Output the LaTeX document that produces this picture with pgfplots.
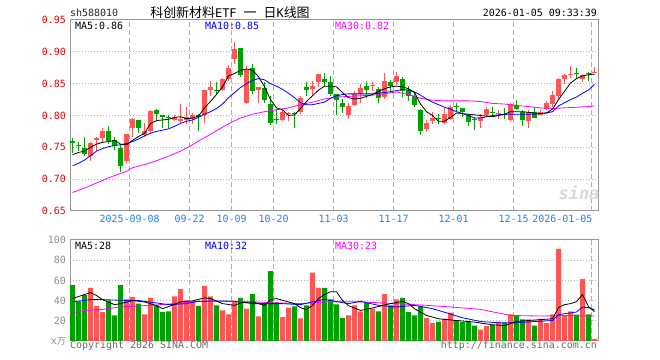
\documentclass[border=0pt]{standalone}
\usepackage{pgfplots}
\usepackage{pgfplotstable}
\pgfplotsset{compat=1.18}
\usepackage{fontspec}
\setmainfont{DejaVu Sans Mono}
\newfontfamily\cjk{Noto Sans CJK SC}
\definecolor{cred}{RGB}{255,85,85}
\definecolor{cgreen}{RGB}{0,160,0}
\definecolor{cmag}{RGB}{255,0,255}
\definecolor{cblue}{RGB}{0,0,255}
\definecolor{cdate}{RGB}{30,130,230}
\definecolor{cgrid}{RGB}{175,175,175}
\definecolor{cframe}{RGB}{150,150,150}
\definecolor{ctick}{RGB}{230,0,0}
\definecolor{cgray}{RGB}{140,140,140}
\definecolor{ccopy}{RGB}{105,105,105}

\pgfplotstableread{
i o h l c v
3 0.736 0.758 0.729 0.757 52.7
4 0.761 0.767 0.745 0.765 34.7
5 0.765 0.781 0.759 0.775 28.7
9 0.729 0.771 0.725 0.771 41.3
10 0.780 0.796 0.767 0.794 43.7
12 0.770 0.789 0.766 0.775 26.3
13 0.776 0.808 0.771 0.807 42.7
17 0.793 0.801 0.792 0.798 44.3
18 0.792 0.818 0.788 0.794 51.3
19 0.793 0.813 0.787 0.798 40.3
20 0.795 0.804 0.787 0.800 39.3
22 0.800 0.840 0.789 0.840 54.7
23 0.840 0.854 0.830 0.845 44.3
25 0.840 0.859 0.839 0.857 30.3
26 0.857 0.879 0.854 0.875 26.3
27 0.888 0.915 0.881 0.905 38.7
29 0.820 0.878 0.818 0.872 32
31 0.840 0.845 0.819 0.844 24.3
35 0.793 0.808 0.791 0.806 23.7
36 0.802 0.806 0.791 0.804 33
38 0.805 0.831 0.802 0.827 22.3
40 0.841 0.854 0.832 0.846 67.7
41 0.853 0.865 0.844 0.865 52.7
46 0.801 0.820 0.795 0.815 25.3
47 0.817 0.839 0.815 0.834 35.3
48 0.834 0.850 0.820 0.843 29.3
50 0.847 0.853 0.839 0.848 32
52 0.829 0.866 0.826 0.854 46.3
54 0.853 0.868 0.848 0.862 41.3
59 0.779 0.793 0.775 0.789 22.7
60 0.791 0.806 0.786 0.796 17.7
62 0.788 0.811 0.786 0.802 22
63 0.794 0.817 0.793 0.813 28
68 0.792 0.802 0.780 0.798 11.3
69 0.800 0.813 0.799 0.810 14.7
71 0.803 0.808 0.794 0.804 19.3
73 0.793 0.819 0.792 0.818 26.3
76 0.792 0.808 0.780 0.806 21.3
78 0.801 0.809 0.800 0.805 22
79 0.810 0.822 0.808 0.819 17.7
80 0.818 0.839 0.814 0.832 26.3
81 0.831 0.859 0.826 0.857 91.3
82 0.857 0.865 0.850 0.864 24.7
83 0.864 0.877 0.859 0.865 29.3
85 0.857 0.865 0.853 0.864 61.3
87 0.868 0.876 0.867 0.869 2
}\up

\pgfplotstableread{
i o h l c v
0 0.760 0.765 0.741 0.757 55.3
1 0.754 0.759 0.745 0.752 39.3
2 0.749 0.766 0.737 0.739 45.3
6 0.775 0.783 0.755 0.760 40
7 0.762 0.766 0.746 0.752 25.3
8 0.749 0.755 0.712 0.721 55.3
11 0.793 0.793 0.772 0.781 37
14 0.808 0.810 0.793 0.803 35.3
15 0.800 0.800 0.781 0.797 28.7
16 0.797 0.800 0.780 0.796 29.3
21 0.800 0.803 0.775 0.798 34.7
24 0.840 0.852 0.833 0.839 35.3
28 0.906 0.906 0.860 0.864 42.7
30 0.875 0.881 0.833 0.839 46.3
32 0.843 0.852 0.820 0.824 37.7
33 0.818 0.831 0.785 0.788 69.3
34 0.795 0.810 0.787 0.794 38
37 0.804 0.806 0.781 0.803 34.3
39 0.844 0.852 0.831 0.840 35.3
42 0.858 0.866 0.846 0.853 52.7
43 0.852 0.862 0.831 0.834 41.3
44 0.833 0.834 0.801 0.824 36.3
45 0.820 0.826 0.804 0.814 22.7
49 0.846 0.854 0.828 0.840 37.7
51 0.841 0.844 0.819 0.828 29.3
53 0.852 0.855 0.836 0.846 35.3
55 0.857 0.860 0.829 0.839 42.7
56 0.840 0.846 0.823 0.831 28.7
57 0.831 0.836 0.814 0.817 25.3
58 0.808 0.810 0.770 0.775 34.3
61 0.796 0.802 0.786 0.794 19.3
64 0.815 0.819 0.805 0.814 20.3
65 0.811 0.812 0.798 0.805 18.7
66 0.800 0.802 0.784 0.790 19.3
67 0.794 0.798 0.777 0.793 15.3
70 0.806 0.813 0.798 0.805 16
72 0.803 0.811 0.795 0.802 18
74 0.816 0.825 0.809 0.810 24.7
75 0.806 0.809 0.784 0.793 21.3
77 0.805 0.813 0.796 0.796 15.3
84 0.866 0.875 0.857 0.865 26
86 0.866 0.869 0.854 0.865 26.3
}\down

\pgfplotsset{
  kbase/.style={
    scale only axis, width=528bp,
    xmin=-0.42, xmax=87.58,
    axis line style={cframe, line width=1bp},
    major tick length=0pt,
    xtick={9.5,19.5,26.5,33.5,43.5,53.5,63.5,73.5},
    extra x ticks={86.5},
    xmajorgrids, ymajorgrids,
    x grid style={cgrid, line width=1bp, dash pattern=on 5bp off 3bp},
    y grid style={cgrid, line width=1bp, dash pattern=on 1bp off 2bp},
    extra x tick style={grid=major},
    tick label style={font=\fontsize{10}{10}\selectfont},
    yticklabel style={inner sep=0pt, xshift=-4bp},
    xticklabel style={inner sep=0pt, yshift=-4bp, text=cdate},
  },
  wick/.style={only marks, mark=*, mark size=0pt, mark options={draw opacity=0, fill opacity=0}, forget plot,
    error bars/.cd, y dir=plus, y explicit, error mark=none,
    error bar style={#1, line width=1bp}},
  body/.style={only marks, mark=*, mark size=0pt, mark options={draw opacity=0, fill opacity=0}, forget plot,
    error bars/.cd, y dir=plus, y explicit, error mark=none,
    error bar style={#1, line width=5bp}},
}

\begin{document}
\begin{tikzpicture}
\useasboundingbox (0,0) rectangle (660bp,360bp);

% ---------- price panel ----------
\begin{axis}[kbase,
  at={(70bp,149bp)}, anchor=south west, height=191bp,
  ymin=0.65, ymax=0.95,
  ytick={0.65,0.70,0.75,0.80,0.85,0.90,0.95},
  yticklabels={0.65,0.70,0.75,0.80,0.85,0.90,0.95},
  yticklabel style={text=ctick},
  xticklabels={2025-09-08,09-22,10-09,10-20,11-03,11-17,12-01,12-15},
  extra x tick labels={2026-01-05},
  extra x tick style={xticklabel style={anchor=north east, xshift=1bp}},
]
\addplot[wick=cred] table[x=i, y=l, y error plus expr={\thisrow{h}-\thisrow{l}}] {\up};
\addplot[body=cred] table[x=i, y expr={min(\thisrow{o},\thisrow{c})}, y error plus expr={abs(\thisrow{c}-\thisrow{o})}] {\up};
\addplot[wick=cgreen] table[x=i, y=l, y error plus expr={\thisrow{h}-\thisrow{l}}] {\down};
\addplot[body=cgreen] table[x=i, y expr={min(\thisrow{o},\thisrow{c})}, y error plus expr={abs(\thisrow{c}-\thisrow{o})}] {\down};

% MA30
\addplot[cmag, line width=0.8bp, mark=none] table {
x y
0 0.679
2 0.686
4 0.694
6 0.702
8 0.709
9 0.712
10 0.718
12 0.723
14 0.729
16 0.736
18 0.744
20 0.754
21 0.760
22 0.765
24 0.776
26 0.787
28 0.796
30 0.802
32 0.806
34 0.809
36 0.812
38 0.817
40 0.821
42 0.826
44 0.829
46 0.830
48 0.831
50 0.832
52 0.834
54 0.837
56 0.833
58 0.827
60 0.824
62 0.823
64 0.823
66 0.823
68 0.822
70 0.819
72 0.818
74 0.816
76 0.814
78 0.812
80 0.811
82 0.812
84 0.813
86 0.814
87 0.815
};
% MA10
\addplot[cblue, line width=0.8bp, mark=none] table {
x y
0 0.721
1 0.725
2 0.730
3 0.737
4 0.744
5 0.748
6 0.751
7 0.753
8 0.754
9 0.756
10 0.759
11 0.763
12 0.768
13 0.772
14 0.775
15 0.777
16 0.779
17 0.783
18 0.7875
19 0.791
20 0.793
21 0.797
22 0.802
23 0.806
24 0.811
25 0.818
26 0.828
27 0.836
28 0.844
29 0.850
30 0.855
31 0.858
32 0.856
33 0.850
34 0.846
35 0.841
36 0.835
37 0.828
38 0.820
39 0.817
40 0.817
41 0.819
42 0.821
43 0.827
44 0.831
45 0.833
46 0.834
47 0.834
48 0.834
49 0.834
50 0.834
51 0.835
52 0.836
53 0.8375
54 0.839
55 0.841
56 0.840
57 0.837
58 0.832
59 0.826
60 0.821
61 0.817
62 0.813
63 0.810
64 0.806
65 0.803
66 0.800
67 0.796
68 0.796
69 0.798
70 0.800
71 0.801
72 0.802
73 0.802
74 0.802
75 0.802
76 0.802
77 0.802
78 0.803
79 0.804
80 0.806
81 0.815
82 0.820
83 0.825
84 0.829
85 0.835
86 0.840
87 0.849
};
% MA5
\addplot[black, line width=0.8bp, mark=none] table {
x y
0 0.7385
1 0.742
2 0.744
3 0.750
4 0.755
5 0.758
6 0.759
7 0.761
8 0.755
9 0.754
10 0.761
11 0.767
12 0.772
13 0.7875
14 0.792
15 0.793
16 0.794
17 0.797
18 0.798
19 0.795
20 0.796
21 0.799
22 0.812
23 0.822
24 0.833
25 0.845
26 0.862
27 0.866
28 0.871
29 0.873
30 0.871
31 0.861
32 0.845
33 0.825
34 0.812
35 0.809
36 0.800
37 0.801
38 0.811
39 0.822
40 0.831
41 0.840
42 0.846
43 0.846
44 0.845
45 0.836
46 0.828
47 0.826
48 0.827
49 0.830
50 0.833
51 0.838
52 0.842
53 0.845
54 0.846
55 0.845
56 0.842
57 0.836
58 0.818
59 0.806
60 0.800
61 0.791
62 0.791
63 0.797
64 0.804
65 0.803
66 0.802
67 0.801
68 0.800
69 0.799
70 0.798
71 0.800
72 0.802
73 0.806
74 0.806
75 0.806
76 0.805
77 0.804
78 0.803
79 0.804
80 0.810
81 0.825
82 0.838
83 0.851
84 0.858
85 0.862
86 0.864
87 0.865
};
\end{axis}

% ---------- volume panel ----------
\begin{axis}[kbase,
  at={(70bp,19bp)}, anchor=south west, height=101bp,
  ymin=0, ymax=100,
  ytick={0,20,40,60,80,100},
  yticklabels={{x{\cjk\fontsize{9}{9}\selectfont 万}},20,40,60,80,100},
  yticklabel style={text=cgray},
  xticklabels={}, extra x tick labels={},
]
\addplot[ybar, bar width=5bp, bar shift=0pt, fill=cred, draw=none, forget plot] table[x=i, y=v] {\up};
\addplot[ybar, bar width=5bp, bar shift=0pt, fill=cgreen, draw=none, forget plot] table[x=i, y=v] {\down};
% vol MA30
\addplot[cmag, line width=0.8bp, mark=none] table {
x y
0 28
2 30.3
5 31.3
8 33.7
11 34.7
13 35.3
17 37
21 39.3
27 39.3
30 38.7
33 38
38 37
43 39
48 38.7
54 37
59 35.3
63 33.7
68 31.3
73 25.3
78 24.7
82 25.3
87 24.7
};
% vol MA10
\addplot[cblue, line width=0.8bp, mark=none] table {
x y
0 38.7
3 41
5 41
8 40.3
11 40
14 37.7
16 36
19 37
21 39.3
24 39.7
27 39.3
30 37
32 37
35 37
38 36
40 38.7
42 41.3
43 40
46 37
48 39.3
51 35.3
54 33.7
57 35.3
60 32
62 28.5
65 23
68 19.3
71 18
74 18
77 19.3
80 20.3
81 26
82 27
84 28.7
85 33.5
86 33
87 31
};
% vol MA5
\addplot[black, line width=0.8bp, mark=none] table {
x y
0 42
2 46
3 48
4 45
5 41
7 36
8 37
10 40
12 38.7
14 35
15 32
16 34
18 38.7
20 39.7
22 42.7
23 42
25 37
27 35.3
28 37.7
30 38.7
32 35.3
33 41
34 42
35 40.3
37 37
38 33
39 31
40 35.3
41 42
42 46
43 48.7
44 48.7
45 40
46 35
48 30.3
50 32.7
53 37
55 39.3
56 37
57 32
59 25.3
61 22
64 20.3
67 18.7
70 16
72 15.3
74 19.3
76 20.3
80 22
81 33
82 36
83 37
84 39
85 46
86 34
87 29
};
\end{axis}

% ---------- texts ----------
\node[anchor=west, inner sep=0pt, text=black!85] at (70bp,347bp) {\fontsize{10}{10}\selectfont sh588010};
\node[inner sep=0pt] at (230bp,347bp) {\cjk\fontsize{13}{13}\selectfont 科创新材料{\fontspec{DejaVu Sans Mono}\fontsize{12}{12}\selectfont ETF}\hspace{7bp}一\hspace{7bp}日{\fontspec{DejaVu Sans Mono}\fontsize{12}{12}\selectfont K}线图};
\node[anchor=east, inner sep=0pt] at (597bp,347bp) {\fontsize{10}{10}\selectfont 2026-01-05 09:33:39};

\node[anchor=west, inner sep=0pt, text=black] at (75bp,334bp) {\fontsize{10}{10}\selectfont MA5:0.86};
\node[anchor=west, inner sep=0pt, text=cblue] at (205bp,334bp) {\fontsize{10}{10}\selectfont MA10:0.85};
\node[anchor=west, inner sep=0pt, text=cmag] at (335bp,334bp) {\fontsize{10}{10}\selectfont MA30:0.82};

\node[anchor=west, inner sep=0pt, text=black] at (75bp,114bp) {\fontsize{10}{10}\selectfont MA5:28};
\node[anchor=west, inner sep=0pt, text=cblue] at (205bp,114bp) {\fontsize{10}{10}\selectfont MA10:32};
\node[anchor=west, inner sep=0pt, text=cmag] at (335bp,114bp) {\fontsize{10}{10}\selectfont MA30:23};

\node[inner sep=0pt, text=black!15] at (579bp,167bp) {\fontsize{17}{17}\selectfont\bfseries\itshape sina};

\node[anchor=west, inner sep=0pt, text=ccopy] at (70bp,14.5bp) {\fontsize{10}{10}\selectfont Copyright 2026 SINA.COM};
\node[anchor=east, inner sep=0pt, text=ccopy] at (597bp,14.5bp) {\fontsize{10}{10}\selectfont http://finance.sina.com.cn};
\end{tikzpicture}
\end{document}
